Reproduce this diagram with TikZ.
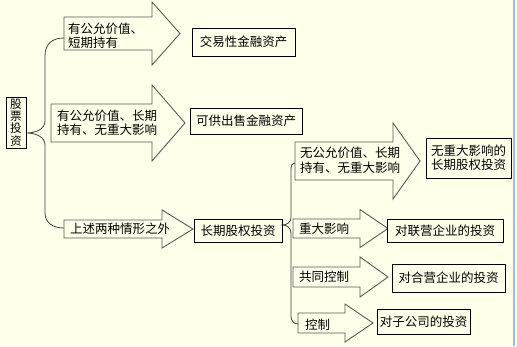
\documentclass[tikz,border=0pt]{standalone}
\usepackage{fontspec}
\usepackage{tikz}
\usetikzlibrary{positioning, calc}
\newfontfamily\cjk{Noto Sans CJK SC}
\definecolor{paper}{RGB}{255, 255, 234}
\definecolor{edge}{RGB}{150, 190, 235}

\begin{document}
\begin{tikzpicture}[x=1pt, y=-1pt,
      font=\cjk\fontsize{12.5}{14.5}\selectfont,
      box/.style={draw, fill=paper, align=center, inner sep=1pt, line width=0.8pt},
      blk/.style={draw=black!65, fill=paper, line width=0.9pt, line join=miter},
      lbl/.style={anchor=west, align=left, inner sep=1pt},
      link/.style={draw=black!75, line width=0.8pt}]
    \fill[paper] (0,0) rectangle (517,346);
    \useasboundingbox (0,0) rectangle (517,346);
    \draw[edge, line width=1.5pt] (514,0) -- (514,346);
    % block arrows: left/top/bottom/head base/tip/half head
    \foreach \l/\t/\b/\h/\p/\w in {64/17/50/152/180/31.5, 51/104/142/152/185/38,
        64/220/238/162/193/19, 295/142/180/393/420/38, 293/219/238/360/388/19,
        293/267/287/360/388/20, 298/313/333/345/373/19}
      \draw[blk] (\l,\t) -- (\h,\t) -- (\h,{(\t+\b)/2-\w}) -- (\p,{(\t+\b)/2})
        -- (\h,{(\t+\b)/2+\w}) -- (\h,\b) -- (\l,\b) -- cycle;
    % texts in the arrows
    \node[lbl] (t1) at (67,35.5) {有公允价值、\\短期持有};
    \node[lbl] (t2) at (56,122.5) {有公允价值、长期\\持有、无重大影响};
    \node[lbl] (t3) at (69,228.5) {上述两种情形之外};
    \node[lbl] (t4) at (299,160) {无公允价值、长期\\持有、无重大影响};
    \node[lbl] (t5) at (298,228.5) {重大影响};
    \node[lbl] (t6) at (298,277) {共同控制};
    \node[lbl] (t7) at (304,325) {控制};
    % result boxes
    \node[box, minimum width=20pt, minimum height=51pt, inner sep=0pt,
          font=\cjk\fontsize{11.6}{12.3}\selectfont] (root) at (16,122.5) {股\\票\\投\\资};
    \node[box, minimum width=103pt, minimum height=28pt] (b1) at (243.5,42) {交易性金融资产};
    \node[box, minimum width=112pt, minimum height=26pt] (b2) at (246,121) {可供出售金融资产};
    \node[box, minimum width=88pt, minimum height=23pt] (b3) at (238,230.5) {长期股权投资};
    \node[box, minimum width=85pt, minimum height=40pt,
          font=\cjk\fontsize{12.5}{13.5}\selectfont] (b4) at (468.5,158) {无重大影响的\\长期股权投资};
    \node[box, minimum width=116pt, minimum height=23pt] (b5) at (445,230.5) {对联营企业的投资};
    \node[box, minimum width=113pt, minimum height=28pt] (b6) at (448.5,278) {对合营企业的投资};
    \node[box, minimum width=93pt, minimum height=25pt] (b7) at (423.5,321.5) {对子公司的投资};
    % brace ends
    \coordinate (a1) at (64,38);
    \coordinate (a3) at (64,228);
    \coordinate (a4) at (295,163);
    \coordinate (a7) at (298,324);
    % braces
    \draw[link] (a1) .. controls (52,38) and (45,44) .. (45,56) -- (45,121)
      .. controls (45,129) and (36,133) .. ([yshift=-10.5pt]root.east)
      .. controls (36,133) and (45,137) .. (45,145) -- (45,213)
      .. controls (45,222) and (52,228) .. (a3);
    \draw[link] (a4) .. controls (292,163) and (291,165) .. (291,170) -- (291,218)
      .. controls (291,222) and (287,225) .. ([yshift=5.5pt]b3.east)
      .. controls (287,225) and (291,228) .. (291,233) -- (291,316)
      .. controls (291,321) and (294,324) .. (a7);
  \end{tikzpicture}
\end{document}
